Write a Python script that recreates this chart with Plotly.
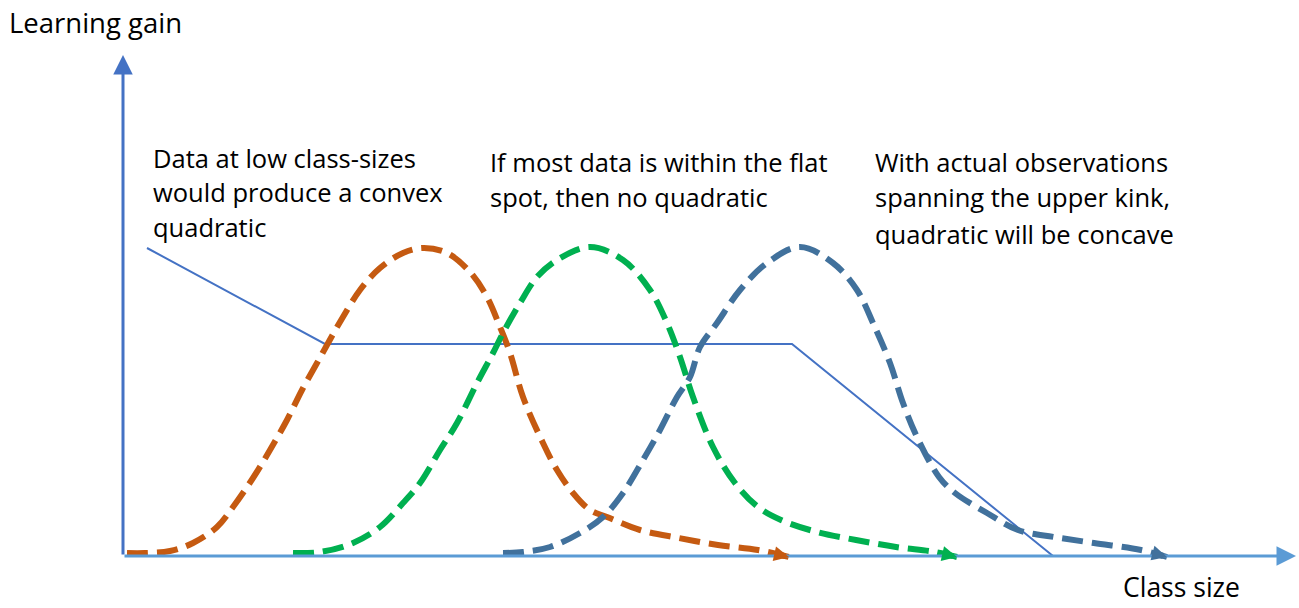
import plotly.graph_objects as go

# ---- data (diagram units: x = class size, y = learning gain; origin at axes corner) ----
orange_x = [4, 22, 47, 70, 94, 110, 130, 147, 164, 179, 194, 204, 217, 237, 257, 280, 300, 324, 347, 364, 377, 387, 400, 420, 434, 450, 467, 484, 517, 556, 595, 635, 666]
orange_y = [3, 3, 5, 13, 29, 49, 78, 106, 136, 166, 193, 211, 234, 266, 288, 303, 308, 303, 284, 259, 229, 203, 159, 113, 86, 63, 46, 39, 26, 18, 11, 6, -1]

green_x = [170, 197, 230, 257, 280, 297, 317, 334, 354, 370, 380, 397, 414, 434, 467, 500, 527, 544, 557, 570, 590, 612, 635, 658, 694, 733, 773, 812, 834]
green_y = [3, 4, 13, 29, 53, 73, 106, 133, 173, 203, 223, 253, 279, 296, 309, 296, 266, 233, 199, 159, 109, 73, 49, 36, 24, 16, 9, 4, -1]

blue_x = [380, 400, 427, 457, 480, 500, 520, 537, 554, 567, 577, 594, 617, 644, 677, 710, 734, 750, 767, 780, 794, 816, 832, 864, 895, 931, 971, 1018, 1044]
blue_y = [3, 4, 9, 23, 39, 63, 96, 126, 159, 179, 209, 233, 266, 293, 309, 293, 266, 233, 193, 153, 119, 79, 63, 43, 26, 19, 13, 6, -1]

kink_x = [24, 202, 669, 930]
kink_y = [308, 212, 212, 0]

axis_len_x = 1173
axis_len_y = 499

label_lines = [
    ("Data at low class-sizes", 28, 398),
    ("would produce a convex", 28, 364),
    ("quadratic", 28, 329),
    ("If most data is within the flat", 365, 394),
    ("spot, then no quadratic", 365, 359),
    ("With actual observations", 750, 394),
    ("spanning the upper kink,", 750, 359),
    ("quadratic will be concave", 750, 322),
]

FONT = "Open Sans"

fig = go.Figure()

fig.add_trace(go.Scatter(x=kink_x, y=kink_y, mode="lines",
                         line=dict(color="#4472C4", width=2), hoverinfo="skip"))

curves = [
    (orange_x, orange_y, "#C55A11"),
    (green_x, green_y, "#00B050"),
    (blue_x, blue_y, "#41719C"),
]
for cx, cy, col in curves:
    fig.add_trace(go.Scatter(x=cx, y=cy, mode="lines",
                             line=dict(color=col, width=6, dash="21px,9px",
                                       shape="spline", smoothing=1.0),
                             hoverinfo="skip"))

annotations = []
annotations.append(dict(x=0, y=axis_len_y + 2, ax=0, ay=0, xref="x", yref="y",
                        axref="x", ayref="y", showarrow=True, arrowhead=2,
                        arrowsize=1.3, arrowwidth=3, arrowcolor="#4472C4",
                        text="", standoff=0))
annotations.append(dict(x=axis_len_x, y=0, ax=0, ay=0, xref="x", yref="y",
                        axref="x", ayref="y", showarrow=True, arrowhead=2,
                        arrowsize=1.3, arrowwidth=3, arrowcolor="#5B9BD5",
                        text="", standoff=0))
for cx, cy, col in curves:
    x1, y1 = cx[-1], cy[-1]
    x0, y0 = cx[-2], cy[-2]
    annotations.append(dict(x=x1, y=y1, ax=x1 - 0.45 * (x1 - x0), ay=y1 - 0.45 * (y1 - y0),
                            xref="x", yref="y", axref="x", ayref="y",
                            showarrow=True, arrowhead=2, arrowsize=0.5,
                            arrowwidth=6, arrowcolor=col, text="", standoff=0))

annotations.append(dict(x=-116, y=534, xref="x", yref="y", text="Learning gain",
                        showarrow=False, xanchor="left", yanchor="middle",
                        font=dict(family=FONT, size=27.5, color="#000000")))
annotations.append(dict(x=998, y=-51, xref="x", yref="y", text="Class size",
                        showarrow=False, xanchor="left", yanchor="bottom",
                        font=dict(family=FONT, size=26.5, color="#000000")))

for txt, tx, ty in label_lines:
    annotations.append(dict(x=tx, y=ty, xref="x", yref="y", text=txt,
                            showarrow=False, xanchor="left", yanchor="middle",
                            font=dict(family=FONT, size=25.5, color="#000000")))

fig.update_layout(
    width=1299, height=608,
    margin=dict(l=0, r=0, t=0, b=0),
    paper_bgcolor="white", plot_bgcolor="white",
    showlegend=False,
    xaxis=dict(range=[-123, 1176], visible=False, fixedrange=True),
    yaxis=dict(range=[-52, 556], visible=False, fixedrange=True),
    annotations=annotations,
)

fig.write_html("out.html", config={"displayModeBar": False},
               post_script="document.body.style.margin='0';document.body.style.overflow='hidden';")
